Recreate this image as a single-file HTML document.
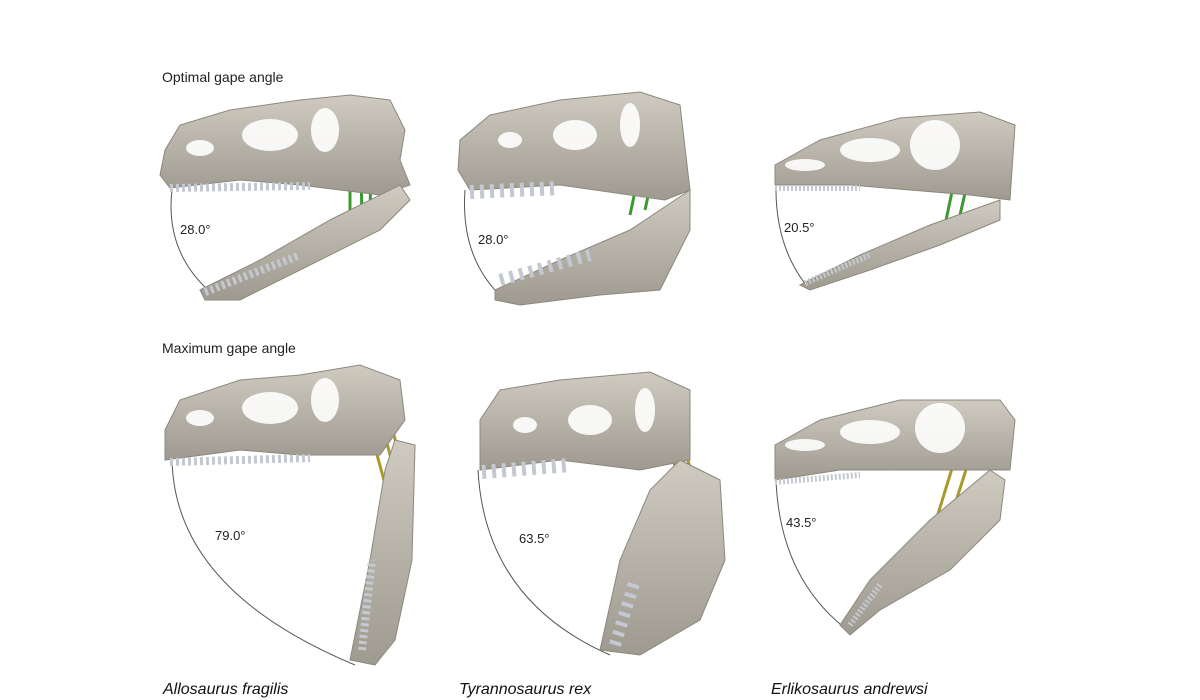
<!DOCTYPE html>
<html><head><meta charset="utf-8"><style>
html,body{margin:0;padding:0;background:#fff;width:1200px;height:700px;overflow:hidden}
svg{position:absolute;left:0;top:0}
</style></head><body>
<svg width="1200" height="700" viewBox="0 0 1200 700" font-family="'Liberation Sans',sans-serif">
<defs>
<linearGradient id="g" x1="0" y1="0" x2="0" y2="1"><stop offset="0" stop-color="#cfcbc0"/><stop offset="1" stop-color="#9e9a90"/></linearGradient>
</defs>
<text x="162" y="82" font-size="14" fill="#222">Optimal gape angle</text>
<text x="162" y="353" font-size="14" fill="#222">Maximum gape angle</text>
<g font-size="16" font-style="italic" fill="#111">
<text x="163" y="694">Allosaurus fragilis</text>
<text x="459" y="694">Tyrannosaurus rex</text>
<text x="771" y="694">Erlikosaurus andrewsi</text>
</g>
<g fill="none" stroke="#555" stroke-width="1">
<path d="M172,190 Q165,250 208,290"/>
<path d="M465,190 Q460,260 505,300"/>
<path d="M776,185 Q775,245 806,285"/>
<path d="M172,460 Q175,590 355,665"/>
<path d="M478,470 Q485,600 610,655"/>
<path d="M776,480 Q780,580 850,632"/>
</g>
<g font-size="13" fill="#222">
<text x="180" y="234">28.0°</text>
<text x="478" y="244">28.0°</text>
<text x="784" y="232">20.5°</text>
<text x="215" y="540">79.0°</text>
<text x="519" y="543">63.5°</text>
<text x="786" y="527">43.5°</text>
</g>
<!-- muscles -->
<g stroke="#3a9a30" stroke-width="3">
<line x1="350" y1="110" x2="350" y2="230"/><line x1="360" y1="105" x2="362" y2="225"/><line x1="372" y1="108" x2="370" y2="215"/><line x1="384" y1="112" x2="380" y2="205"/>
<line x1="650" y1="120" x2="630" y2="215"/><line x1="665" y1="118" x2="645" y2="210"/>
<line x1="965" y1="130" x2="945" y2="225"/><line x1="980" y1="128" x2="960" y2="215"/>
</g>
<g stroke="#a89a2a" stroke-width="3">
<line x1="355" y1="375" x2="395" y2="520"/><line x1="368" y1="372" x2="402" y2="500"/><line x1="380" y1="378" x2="405" y2="480"/>
<line x1="655" y1="395" x2="690" y2="520"/><line x1="668" y1="395" x2="700" y2="500"/>
<line x1="970" y1="410" x2="930" y2="540"/><line x1="985" y1="410" x2="950" y2="520"/>
</g>
<g fill="url(#g)" stroke="#8c887e" stroke-width="1">
<!-- top row -->
<polygon points="165,150 180,125 230,110 300,100 350,95 390,100 405,130 400,160 410,185 380,195 300,185 240,180 170,188 160,175"/>
<polygon points="200,290 260,260 330,220 400,185 410,200 380,230 300,270 240,300 205,300"/>
<polygon points="460,140 490,115 560,100 640,92 680,105 690,190 665,200 560,185 470,190 458,170"/>
<polygon points="495,290 560,260 630,230 690,190 690,230 660,290 600,295 520,305 495,300"/>
<polygon points="775,165 820,140 900,118 980,112 1015,125 1010,200 970,195 850,185 775,185"/>
<polygon points="800,285 860,255 930,225 1000,200 1000,220 940,245 870,270 810,290"/>
<!-- bottom row -->
<polygon points="165,430 180,400 240,380 300,375 360,365 400,380 405,420 380,455 300,455 240,450 165,460"/>
<polygon points="395,440 415,445 412,560 395,640 375,665 350,660 370,560 385,470"/>
<polygon points="480,420 500,390 560,380 650,372 690,390 690,460 640,470 560,460 480,470"/>
<polygon points="680,460 720,480 725,560 700,620 640,655 600,650 620,560 650,490"/>
<polygon points="775,445 820,420 900,400 1000,400 1015,420 1010,470 960,470 840,470 775,480"/>
<polygon points="990,470 1005,480 1000,520 950,570 880,610 850,635 840,625 870,580 930,520"/>
</g>
<!-- holes -->
<g fill="#fff" opacity="0.9">
<ellipse cx="200" cy="148" rx="14" ry="8"/><ellipse cx="270" cy="135" rx="28" ry="16"/><ellipse cx="325" cy="130" rx="14" ry="22"/>
<ellipse cx="510" cy="140" rx="12" ry="8"/><ellipse cx="575" cy="135" rx="22" ry="15"/><ellipse cx="630" cy="125" rx="10" ry="22"/>
<ellipse cx="805" cy="165" rx="20" ry="6"/><ellipse cx="870" cy="150" rx="30" ry="12"/><ellipse cx="935" cy="145" rx="25" ry="25"/>
<ellipse cx="200" cy="418" rx="14" ry="8"/><ellipse cx="270" cy="408" rx="28" ry="16"/><ellipse cx="325" cy="400" rx="14" ry="22"/>
<ellipse cx="525" cy="425" rx="12" ry="8"/><ellipse cx="590" cy="420" rx="22" ry="15"/><ellipse cx="645" cy="410" rx="10" ry="22"/>
<ellipse cx="805" cy="445" rx="20" ry="6"/><ellipse cx="870" cy="432" rx="30" ry="12"/><ellipse cx="940" cy="428" rx="25" ry="25"/>
</g>
<!-- teeth -->
<g stroke="#c4c8d0" stroke-width="3">
<path d="M170,188 L310,186" stroke-dasharray="3 3" stroke-width="8"/>
<path d="M205,292 L300,255" stroke-dasharray="3 3" stroke-width="8"/>
<path d="M470,192 L560,188" stroke-dasharray="4 6" stroke-width="14"/>
<path d="M500,280 L590,255" stroke-dasharray="4 6" stroke-width="12"/>
<path d="M775,188 L860,188" stroke-dasharray="2 2" stroke-width="6"/>
<path d="M805,283 L870,255" stroke-dasharray="2 2" stroke-width="6"/>
<path d="M170,462 L310,458" stroke-dasharray="3 3" stroke-width="8"/>
<path d="M362,650 L372,560" stroke-dasharray="3 3" stroke-width="8"/>
<path d="M482,472 L570,465" stroke-dasharray="4 6" stroke-width="14"/>
<path d="M615,645 L635,580" stroke-dasharray="4 6" stroke-width="12"/>
<path d="M775,482 L860,475" stroke-dasharray="2 2" stroke-width="6"/>
<path d="M850,625 L880,585" stroke-dasharray="2 2" stroke-width="6"/>
</g>
</svg>
</body></html>
